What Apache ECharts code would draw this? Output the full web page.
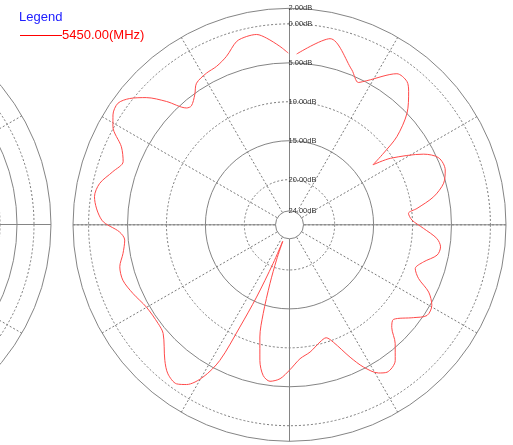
<!DOCTYPE html>
<html>
<head>
<meta charset="utf-8">
<script src="https://cdn.jsdelivr.net/npm/echarts@6/dist/echarts.min.js"></script>
<style>
html,body{margin:0;padding:0;background:#fff;}
#c{width:513px;height:445px;}
</style>
</head>
<body>
<div id="c"></div>
<script>
// Pattern data: angle (deg, clockwise from top) and gain (dB)
const angles = [2.4,12.3,21.9,25.8,28.2,35.4,39.3,41.8,46.5,50.6,52.7,54.3,56.6,62.2,65.8,70.6,74.9,79.0,82.7,84.5,87.8,91.5,95.3,98.3,101.6,105.5,109.2,112.6,115.8,119.5,123.4,126.8,132.3,135.1,138.3,142.1,146.5,149.0,152.5,155.4,159.5,162.0,165.4,170.8,175.5,179.8,183.5,187.1,189.9,192.3,194.8,196.5,198.4,200.3,202.3,203.0,204.5,205.9,207.2,209.6,212.8,215.4,219.2,222.6,229.3,233.1,240.1,246.3,251.6,256.1,260.2,264.7,267.6,271.4,278.2,282.3,286.7,290.8,294.9,299.1,301.9,305.3,308.3,311.6,315.1,318.6,320.5,323.9,326.7,331.3,335.3,339.5,343.9,347.2,350.2,353.0,356.9,359.6];
const gains = [-3.85,-1.34,-4.35,-5.5,-4.8,-2.0,-2.0,-2.85,-5.0,-7.95,-10.6,-12.6,-10.3,-6.35,-4.8,-4.6,-5.3,-6.95,-9.3,-10.45,-10.06,-8.6,-6.8,-6.2,-6.45,-7.95,-8.7,-7.85,-5.95,-4.8,-4.65,-5.9,-7.75,-7.2,-5.4,-3.7,-3.1,-3.6,-5.2,-7.1,-9.7,-10.55,-10.25,-9.25,-8.55,-7.2,-6.0,-5.55,-6.15,-7.95,-10.9,-13.9,-17.85,-21.0,-23.5,-20.4,-15.6,-11.2,-6.2,-3.3,-1.4,-0.75,-1.1,-2.15,-4.4,-4.7,-4.6,-3.85,-3.25,-3.35,-4.1,-4.55,-3.95,-1.7,-0.5,-0.85,-2.1,-2.95,-2.0,0.15,0.9,1.2,0.36,-1.2,-3.45,-5.8,-6.0,-5.15,-4.05,-3.6,-3.4,-2.7,-1.3,-1.0,-1.0,-1.65,-2.85,-3.75];
const seriesName = '5450.00(MHz)';
const legendTitle = 'Legend';
// ring values (dB)
const rMin = -24, rMax = 2;
const dashedRings = [-20, -10, 0];
const solidRings = [-15, -5];

const CX = 289.5, CY = 224.8, R0 = 14, R1 = 216.5;
const pxPerDb = (R1 - R0) / (rMax - rMin);
const rad = v => R0 + (v - rMin) * pxPerDb;

const LCX = -166.4, LCY = 224.5;

const GRID = '#858585';
const DOT = '#7a7a7a';
const dashType = [2, 2];
const fmt = v => Math.abs(v).toFixed(2) + 'dB';
const lab = {show:true, formatter: fmt, fontSize: 7.5, color:'#333', fontFamily:'Liberation Sans, Arial, sans-serif', inside:true, margin:1, align:'left', verticalAlign:'middle'};
const noLab = {show:false};

function angleAx(idx, interval, splitStyle){
  return {polarIndex: idx, type:'value', min:0, max:360, interval: interval, startAngle:90, clockwise:true,
    axisLine:{show:false}, axisTick:{show:false}, axisLabel:{show:false},
    splitLine: splitStyle ? {show:true, lineStyle: splitStyle} : {show:false}};
}
function radiusAx(idx, min, max, interval, splitStyle, label){
  return {polarIndex: idx, type:'value', min:min, max:max, interval: interval,
    axisLine:{show:false}, axisTick:{show:false}, axisLabel: label || noLab,
    splitLine: splitStyle ? {show:true, lineStyle: splitStyle} : {show:false}};
}
const solidS = {color: GRID, width: 1, type:'solid'};
const dashS = {color: DOT, width: 1, type: dashType};

const polar = [
  {center:[CX,CY], radius:[R0,R1]},                          // 0 main, data, dashed spokes, inner/outer rings
  {center:[CX,CY], radius:[R0,R1]},                          // 1 solid cross
  {center:[CX,CY], radius:[rad(dashedRings[0]), rad(dashedRings[2])]}, // 2 dashed rings
  {center:[CX,CY], radius:[rad(solidRings[0]), rad(solidRings[1])]},   // 3 solid rings
  {center:[LCX,LCY], radius:[166.4,217.4]},                  // 4 left dashed spokes
  {center:[LCX,LCY], radius:[166.4,217.4]},                  // 5 left solid cross
  {center:[LCX,LCY], radius:[183.4,217.4]},                  // 6 left solid rings
  {center:[LCX,LCY], radius:[166.4,200.4]}                   // 7 left dashed rings
];
const angleAxis = [
  angleAx(0, 30, dashS),
  angleAx(1, 90, solidS),
  angleAx(2, 90, null),
  angleAx(3, 90, null),
  angleAx(4, 30, dashS),
  angleAx(5, 90, solidS),
  angleAx(6, 90, null),
  angleAx(7, 90, null)
];
const radiusAxis = [
  radiusAx(0, rMin, rMax, rMax - rMin, solidS, lab),
  radiusAx(1, rMin, rMax, rMax - rMin, null),
  radiusAx(2, dashedRings[0], dashedRings[2], 10, dashS, lab),
  radiusAx(3, solidRings[0], solidRings[1], 10, solidS, lab),
  radiusAx(4, 0, 1, 1, null),
  radiusAx(5, 0, 1, 1, null),
  radiusAx(6, 0, 1, 1, solidS),
  radiusAx(7, 0, 1, 1, dashS)
];

const chart = echarts.init(document.getElementById('c'), null, {renderer:'canvas'});
chart.setOption({
  animation:false,
  backgroundColor:'#fff',
  title:{text: legendTitle, left:19, top:11, padding:0,
    textStyle:{color:'#2020ff', fontSize:13, fontWeight:'normal', fontFamily:'Liberation Sans, Arial, sans-serif'}},
  legend:{left:20, top:29, padding:0, itemWidth:42, itemHeight:1, icon:'rect',
    data:[{name: seriesName, itemStyle:{color:'#ff0000'}}],
    textStyle:{color:'#ff0000', fontSize:13, fontFamily:'Liberation Sans, Arial, sans-serif', padding:[0,0,0,-5]}},
  polar: polar,
  angleAxis: angleAxis,
  radiusAxis: radiusAxis,
  series:[{
    name: seriesName, type:'line', coordinateSystem:'polar', polarIndex:0,
    showSymbol:false, smooth:0.3, clip:false,
    lineStyle:{color:'#ff4a4a', width:1},
    itemStyle:{color:'#ff0000'},
    data: angles.map((a,i)=>[gains[i], a])
  }]
});
</script>
</body>
</html>
